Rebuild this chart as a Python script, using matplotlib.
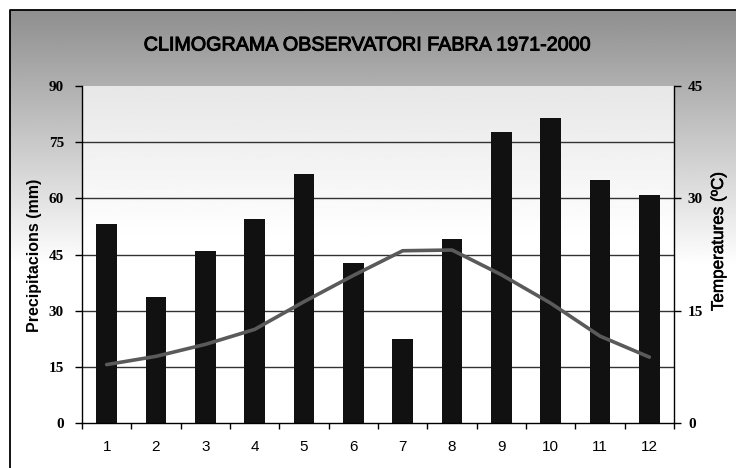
import numpy as np
import matplotlib
matplotlib.use('Agg')
import matplotlib.pyplot as plt
import matplotlib.patheffects as pe

# monthly data, Observatori Fabra 1971-2000
months = ['1', '2', '3', '4', '5', '6', '7', '8', '9', '10', '11', '12']
precip = [53.1, 33.6, 45.9, 54.5, 66.5, 42.8, 22.4, 49.2, 77.6, 81.5, 64.9, 60.8]
temps = [7.8, 8.9, 10.5, 12.5, 16.2, 19.7, 23.0, 23.1, 19.8, 16.0, 11.6, 8.8]

prec_ticks = [0, 15, 30, 45, 60, 75, 90]
temp_ticks = [0, 15, 30, 45]

W, H = 736, 468
fig = plt.figure(figsize=(W / 100, H / 100), dpi=100)
fig.patch.set_facecolor('white')

# figure background gradient + frame
bg = fig.add_axes([0, 0, 1, 1], zorder=-10)
bg.set_xlim(0, W)
bg.set_ylim(H, 0)
bg.axis('off')
yy = np.linspace(10, H, 300)
grad = np.clip(0.56 + (yy - 10) / (265 - 10) * 0.44, 0, 1)
bg.imshow(np.tile(grad[:, None], (1, 2)), cmap='gray', vmin=0, vmax=1,
          extent=(10, W, H, 10), aspect='auto', interpolation='bilinear')
bg.plot([10, 10, W], [H, 10, 10], color='black', lw=1.3)

x = np.arange(1, 13)
left, right = 82 / W, 674 / W
bottom, top = (H - 423) / H, (H - 86) / H
ax = fig.add_axes([left, bottom, right - left, top - bottom])
ax.patch.set_alpha(0)

# plot area gradient
py = np.linspace(86, 423, 300)
pgrad = np.clip(0.905 + (py - 86) / (240 - 86) * 0.095, 0, 1)
ax.imshow(np.tile(pgrad[:, None], (1, 2)), cmap='gray', vmin=0, vmax=1,
          extent=(0.5, 12.5, 0, 90), aspect='auto', zorder=0, interpolation='bilinear')

for t in prec_ticks[1:-1]:
    ax.axhline(t, color='#333333', lw=1.0, zorder=1)

ax.bar(x, precip, width=0.42, color='#111111', zorder=2)

ax.set_xlim(0.5, 12.5)
ax.set_ylim(0, 90)
ax.set_yticks(prec_ticks)
ax.set_xticks(x)
ax.set_xticklabels(months, fontsize=11, family='Liberation Sans')
ax.set_xticks(np.arange(0.5, 13, 1), minor=True)
ax.tick_params(axis='x', which='major', length=0, pad=12)
ax.tick_params(axis='x', which='minor', length=4, width=1, direction='out')
ax.tick_params(axis='y', length=5, width=1, direction='out', pad=8)
for lab in ax.get_yticklabels():
    lab.set_fontfamily('Liberation Serif')
    lab.set_fontweight('bold')
    lab.set_fontsize(11)
ax.spines['top'].set_visible(False)
ax.spines['right'].set_visible(False)
for s in ['left', 'bottom']:
    ax.spines[s].set_linewidth(1.0)

ax2 = ax.twinx()
ax2.plot(x, temps, color='#5a5a5a', lw=2.6, zorder=3, solid_capstyle='round')
ax2.set_ylim(0, 45)
ax2.set_yticks(temp_ticks)
ax2.tick_params(axis='y', length=5, width=1, direction='out', pad=5)
for lab in ax2.get_yticklabels():
    lab.set_fontfamily('Liberation Serif')
    lab.set_fontweight('bold')
    lab.set_fontsize(11)
for s in ['top', 'left', 'bottom']:
    ax2.spines[s].set_visible(False)
ax2.spines['right'].set_linewidth(1.0)

# axis titles
fig.text(35 / W, 1 - 255 / H, 'Precipitacions (mm)', rotation=90, ha='center', va='center',
         fontsize=11.5, fontweight='bold', family='Liberation Sans')
fig.text(718 / W, 1 - 241 / H, 'Temperatures (ºC)', rotation=90, ha='center', va='center',
         fontsize=12.3, family='Liberation Sans',
         path_effects=[pe.withStroke(linewidth=0.4, foreground='black')])

fig.text(367 / W, 1 - 45 / H, 'CLIMOGRAMA OBSERVATORI FABRA 1971-2000',
         ha='center', va='center', fontsize=14.2, family='Liberation Sans',
         path_effects=[pe.withStroke(linewidth=0.7, foreground='black')])

fig.savefig('out.png', dpi=100)
